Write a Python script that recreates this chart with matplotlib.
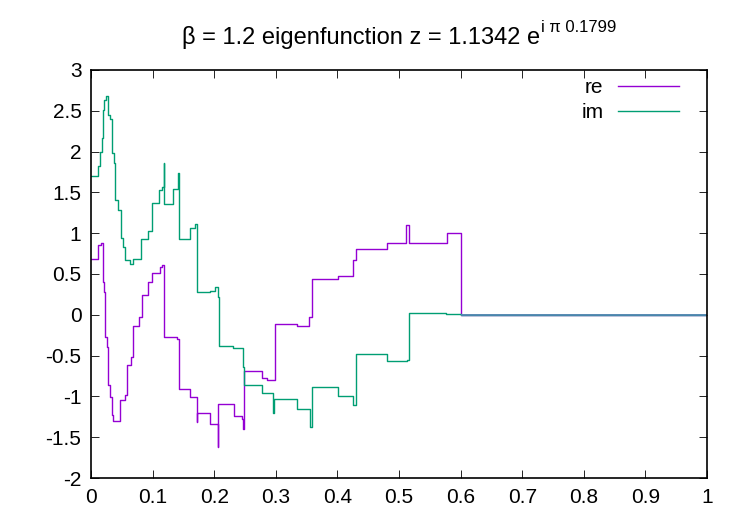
import matplotlib
matplotlib.use("Agg")
import matplotlib.pyplot as plt

plt.rcParams['font.family'] = ['Liberation Sans', 'DejaVu Sans']

# ---- data (step functions: value holds from x[i] to x[i+1]) ----
re_x = [0, 0.0117, 0.0160, 0.0188, 0.0209, 0.0226, 0.0253, 0.0280, 0.0307, 0.0334,
        0.0360, 0.0469, 0.0550, 0.0577, 0.0643, 0.0685, 0.0778, 0.0821, 0.0929, 0.0994,
        0.1119, 0.1156, 0.1183, 0.1399, 0.1432, 0.1606, 0.1714, 0.1720, 0.1930, 0.2055,
        0.2065, 0.2320, 0.2445, 0.2471, 0.2487, 0.2770, 0.2850, 0.2985, 0.3338, 0.3542,
        0.3581, 0.4013, 0.4256, 0.4295, 0.4808, 0.5107, 0.5161, 0.5782, 0.6005, 1.0]
re_y = [0.680, 0.855, 0.884, 0.406, 0.283, -0.268, -0.391, -0.860, -1.004, -1.228,
        -1.301, -1.044, -0.983, -0.615, -0.513, -0.137, -0.023, 0.243, 0.406, 0.516,
        0.589, 0.610, -0.276, -0.300, -0.913, -1.004, -1.31, -1.2, -1.338, -1.616,
        -1.097, -1.240, -1.281, -1.403, -0.685, -0.778, -0.799, -0.113, -0.137, -0.031,
        0.435, 0.475, 0.672, 0.803, 0.884, 1.100, 0.884, 0.999, 0.0, 0.0]

im_x = [0, 0.0117, 0.0144, 0.0172, 0.0188, 0.0209, 0.0237, 0.0269, 0.0307, 0.0334,
        0.0372, 0.0393, 0.0442, 0.0481, 0.0523, 0.0550, 0.0631, 0.0675, 0.0810, 0.0929,
        0.0984, 0.1107, 0.1146, 0.1183, 0.1190, 0.1334, 0.1410, 0.1420, 0.1606, 0.1687,
        0.1724, 0.1930, 0.2011, 0.2055, 0.2076, 0.2308, 0.2461, 0.2482, 0.2780, 0.2958,
        0.2974, 0.3338, 0.3554, 0.3581, 0.4013, 0.4256, 0.4295, 0.4808, 0.5123, 0.5166,
        0.5770, 0.6005, 1.0]
im_y = [1.705, 1.824, 1.999, 2.163, 2.51, 2.633, 2.681, 2.449, 2.396, 1.979,
        1.857, 1.407, 1.284, 0.937, 0.835, 0.672, 0.623, 0.680, 0.929, 1.031,
        1.366, 1.529, 1.562, 1.857, 1.358, 1.538, 1.734, 0.929, 1.06, 1.113,
        0.283, 0.295, 0.344, 0.222, -0.382, -0.411, -0.636, -0.860, -0.954, -1.207,
        -1.036, -1.158, -1.371, -0.881, -0.995, -1.105, -0.484, -0.562, -0.55, 0.018,
        0.006, 0.0, 0.0]

x_ticks = [0, 0.1, 0.2, 0.3, 0.4, 0.5, 0.6, 0.7, 0.8, 0.9, 1]
x_labels = ['0', '0.1', '0.2', '0.3', '0.4', '0.5', '0.6', '0.7', '0.8', '0.9', '1']
y_ticks = [-2, -1.5, -1, -0.5, 0, 0.5, 1, 1.5, 2, 2.5, 3]
y_labels = ['-2', '-1.5', '-1', '-0.5', '0', '0.5', '1', '1.5', '2', '2.5', '3']

title_main = 'β = 1.2 eigenfunction z = 1.1342 e'
title_sup = 'i π 0.1799'

RE_COLOR = '#9400d3'
IM_COLOR = '#009e73'
TAIL_COLOR = '#5086b0'

W, H = 750, 525
fig = plt.figure(figsize=(W / 100, H / 100), dpi=100)
ax = fig.add_axes([91.1 / W, 1 - 478 / H, (707 - 91.1) / W, (478 - 70) / H])

ax.step(re_x, re_y, where='post', color=RE_COLOR, lw=1.0, label='re')
ax.step(im_x, im_y, where='post', color=IM_COLOR, lw=1.0, label='im')
# common zero tail of both series
ax.plot(re_x[-2:], re_y[-2:], color=TAIL_COLOR, lw=1.3, solid_capstyle='butt')

ax.set_xlim(0, 1)
ax.set_ylim(-2, 3)
ax.set_xticks(x_ticks)
ax.set_xticklabels(x_labels)
ax.set_yticks(y_ticks)
ax.set_yticklabels(y_labels)
ax.tick_params(direction='in', length=6, width=0.6, top=True, right=True,
               labelsize=15, pad=7, colors='black')
for s in ax.spines.values():
    s.set_linewidth(1.2)

leg = ax.legend(loc='upper right', bbox_to_anchor=(1 - 28 / 616, 1 - 8 / 408),
                frameon=False, markerfirst=False, fontsize=15,
                handlelength=2.93, handletextpad=0.7, labelspacing=0.28,
                borderpad=0, borderaxespad=0)

# title with superscript
t1 = fig.text(0, 1 - 44 / H, title_main, fontsize=17, ha='left', va='baseline')
t2 = fig.text(0, 1 - 32 / H, title_sup, fontsize=12, ha='left', va='baseline')
fig.canvas.draw()
r = fig.canvas.get_renderer()
w1 = t1.get_window_extent(r).width
w2 = t2.get_window_extent(r).width
cx = (91.1 + 707) / 2
x0 = cx - (w1 + w2 + 1) / 2
t1.set_x(x0 / W)
t2.set_x((x0 + w1 + 1) / W)

fig.savefig('out.png', dpi=100)
